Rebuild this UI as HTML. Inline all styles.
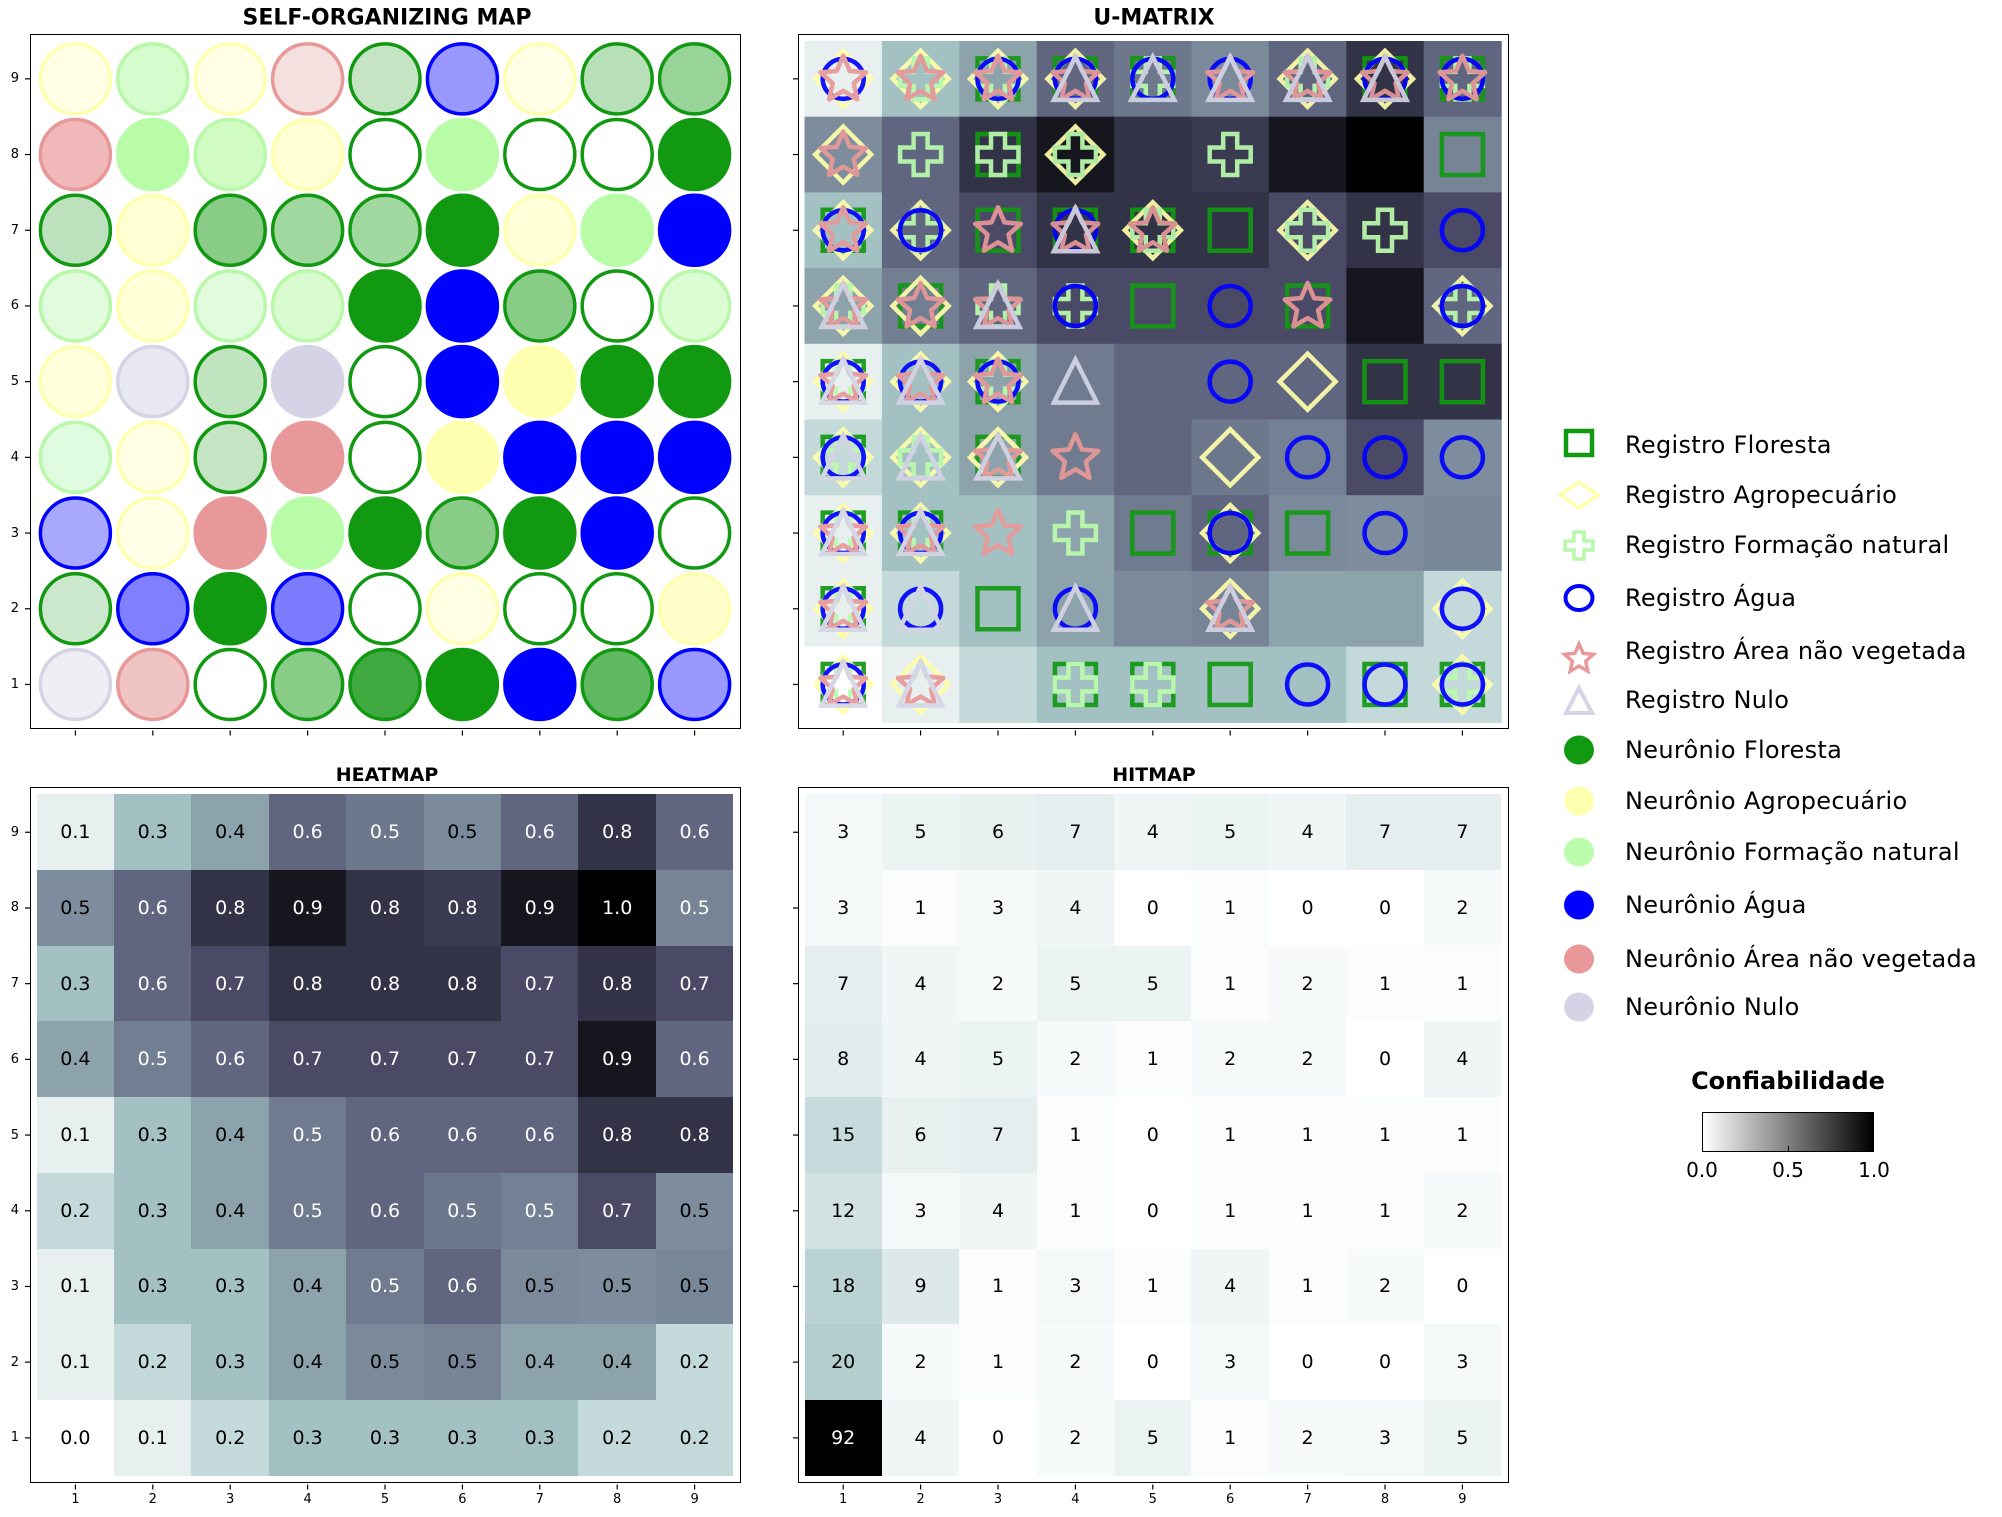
<!DOCTYPE html>
<html><head><meta charset="utf-8">
<style>
*{margin:0;padding:0;box-sizing:border-box}
html,body{width:2002px;height:1517px;background:#fff;overflow:hidden;font-family:"DejaVu Sans","Liberation Sans",sans-serif}
.abs{position:absolute}
.ax{position:absolute;border:1.5px solid #000}
.title{position:absolute;font-weight:bold;text-align:center;transform:translate(-50%,-50%);white-space:nowrap}
.tl{position:absolute;text-align:center;transform:translate(-50%,-50%);white-space:nowrap}
.g{position:absolute;display:grid;grid-template-columns:repeat(9,1fr);grid-template-rows:repeat(9,1fr);font-size:19px}
.g span{display:flex;align-items:center;justify-content:center;color:#000}
.g span.w{color:#fff}
.yl{position:absolute;display:grid;grid-template-rows:repeat(9,1fr);font-size:13px;text-align:right}
.yl span{display:flex;align-items:center;justify-content:flex-end}
.xl{position:absolute;display:grid;grid-template-columns:repeat(9,1fr);font-size:13px;text-align:center}
.leg{position:absolute;left:1625px;font-size:24px;transform:translateY(-50%);white-space:nowrap;letter-spacing:0.3px}
</style></head><body>
<svg id="bg" class="abs" style="left:0;top:0" width="2002" height="1517"></svg>

<div class="title" style="left:387px;top:18px;font-size:22px">SELF-ORGANIZING MAP</div>
<div class="title" style="left:1154px;top:18px;font-size:22px">U-MATRIX</div>
<div class="title" style="left:387px;top:775px;font-size:19px">HEATMAP</div>
<div class="title" style="left:1154px;top:775px;font-size:19px">HITMAP</div>

<div class="g" id="heat" style="left:36.7px;top:794.4px;width:696.6px;height:681.3px">
<span>0.1</span><span>0.3</span><span>0.4</span><span class=w>0.6</span><span class=w data-v=".54">0.5</span><span data-v=".48">0.5</span><span class=w>0.6</span><span class=w>0.8</span><span class=w>0.6</span>
<span data-v=".47">0.5</span><span class=w>0.6</span><span class=w>0.8</span><span class=w>0.9</span><span class=w>0.8</span><span class=w data-v=".77">0.8</span><span class=w>0.9</span><span class=w>1.0</span><span class=w data-v=".5">0.5</span>
<span>0.3</span><span class=w>0.6</span><span class=w>0.7</span><span class=w>0.8</span><span class=w>0.8</span><span class=w>0.8</span><span class=w>0.7</span><span class=w>0.8</span><span class=w>0.7</span>
<span>0.4</span><span class=w data-v=".52">0.5</span><span class=w>0.6</span><span class=w>0.7</span><span class=w>0.7</span><span class=w>0.7</span><span class=w>0.7</span><span class=w>0.9</span><span class=w>0.6</span>
<span>0.1</span><span>0.3</span><span>0.4</span><span class=w data-v=".53">0.5</span><span class=w>0.6</span><span class=w>0.6</span><span class=w>0.6</span><span class=w>0.8</span><span class=w>0.8</span>
<span>0.2</span><span>0.3</span><span>0.4</span><span class=w data-v=".53">0.5</span><span class=w>0.6</span><span class=w data-v=".54">0.5</span><span class=w data-v=".51">0.5</span><span class=w>0.7</span><span data-v=".47">0.5</span>
<span>0.1</span><span>0.3</span><span>0.3</span><span>0.4</span><span class=w data-v=".53">0.5</span><span class=w>0.6</span><span data-v=".48">0.5</span><span data-v=".47">0.5</span><span data-v=".49">0.5</span>
<span>0.1</span><span>0.2</span><span>0.3</span><span>0.4</span><span data-v=".48">0.5</span><span data-v=".5">0.5</span><span>0.4</span><span>0.4</span><span>0.2</span>
<span>0.0</span><span>0.1</span><span>0.2</span><span>0.3</span><span>0.3</span><span>0.3</span><span>0.3</span><span>0.2</span><span>0.2</span>
</div>

<div class="g" id="hit" style="left:804.5px;top:794.4px;width:696.6px;height:681.3px">
<span>3</span><span>5</span><span>6</span><span>7</span><span>4</span><span>5</span><span>4</span><span>7</span><span>7</span>
<span>3</span><span>1</span><span>3</span><span>4</span><span>0</span><span>1</span><span>0</span><span>0</span><span>2</span>
<span>7</span><span>4</span><span>2</span><span>5</span><span>5</span><span>1</span><span>2</span><span>1</span><span>1</span>
<span>8</span><span>4</span><span>5</span><span>2</span><span>1</span><span>2</span><span>2</span><span>0</span><span>4</span>
<span>15</span><span>6</span><span>7</span><span>1</span><span>0</span><span>1</span><span>1</span><span>1</span><span>1</span>
<span>12</span><span>3</span><span>4</span><span>1</span><span>0</span><span>1</span><span>1</span><span>1</span><span>2</span>
<span>18</span><span>9</span><span>1</span><span>3</span><span>1</span><span>4</span><span>1</span><span>2</span><span>0</span>
<span>20</span><span>2</span><span>1</span><span>2</span><span>0</span><span>3</span><span>0</span><span>0</span><span>3</span>
<span class=w>92</span><span>4</span><span>0</span><span>2</span><span>5</span><span>1</span><span>2</span><span>3</span><span>5</span>
</div>

<svg id="fg" class="abs" style="left:0;top:0" width="2002" height="1517"></svg>

<div class="ax" style="left:30px;top:34px;width:711px;height:695px"></div>
<div class="ax" style="left:798px;top:34px;width:711px;height:695px"></div>
<div class="ax" style="left:30px;top:787px;width:711px;height:696px"></div>
<div class="ax" style="left:798px;top:787px;width:711px;height:696px"></div>

<div class="yl" style="left:0;width:19px;top:41px;height:681.3px"><span>9</span><span>8</span><span>7</span><span>6</span><span>5</span><span>4</span><span>3</span><span>2</span><span>1</span></div>
<div class="yl" style="left:0;width:19px;top:794.4px;height:681.3px"><span>9</span><span>8</span><span>7</span><span>6</span><span>5</span><span>4</span><span>3</span><span>2</span><span>1</span></div>
<div class="xl" style="left:36.7px;width:696.6px;top:1492px"><span>1</span><span>2</span><span>3</span><span>4</span><span>5</span><span>6</span><span>7</span><span>8</span><span>9</span></div>
<div class="xl" style="left:804.5px;width:696.6px;top:1492px"><span>1</span><span>2</span><span>3</span><span>4</span><span>5</span><span>6</span><span>7</span><span>8</span><span>9</span></div>

<svg class="abs" style="left:1550px;top:420px" width="60" height="610">
<g transform="translate(29,0)">
<rect x="-13" y="11" width="26" height="24" fill="none" stroke="#119911" stroke-width="4.5"/>
<path d="M-19 75 L0 62 L19 75 L0 88 Z" fill="none" stroke="#ffffaa" stroke-width="3.5"/>
<path d="M-5 112 h10 v9 h9 v9 h-9 v9 h-10 v-9 h-9 v-9 h9 Z" fill="none" stroke="#b8f8a8" stroke-width="3.5"/>
<ellipse cx="0" cy="178" rx="13.5" ry="12" fill="none" stroke="#0000ff" stroke-width="4"/>
<path id="ls" d="" fill="none" stroke="#e89898" stroke-width="3.5"/>
<path d="M0 268 L13 293 L-13 293 Z" fill="none" stroke="#d4d4e6" stroke-width="4"/>
<ellipse cx="0" cy="330" rx="15" ry="14.5" fill="#119911"/>
<ellipse cx="0" cy="381" rx="15" ry="14.5" fill="#ffffb0"/>
<ellipse cx="0" cy="432" rx="15" ry="14.5" fill="#bbfcad"/>
<ellipse cx="0" cy="485" rx="15" ry="14.5" fill="#0000ff"/>
<ellipse cx="0" cy="539" rx="15" ry="14.5" fill="#e89898"/>
<ellipse cx="0" cy="587" rx="15" ry="14.5" fill="#d4d4e6"/>
</g></svg>
<div class="leg" style="top:445px">Registro Floresta</div>
<div class="leg" style="top:495px">Registro Agropecuário</div>
<div class="leg" style="top:545px">Registro Formação natural</div>
<div class="leg" style="top:598px">Registro Água</div>
<div class="leg" style="top:651px">Registro Área não vegetada</div>
<div class="leg" style="top:700px">Registro Nulo</div>
<div class="leg" style="top:750px">Neurônio Floresta</div>
<div class="leg" style="top:801px">Neurônio Agropecuário</div>
<div class="leg" style="top:852px">Neurônio Formação natural</div>
<div class="leg" style="top:905px">Neurônio Água</div>
<div class="leg" style="top:959px">Neurônio Área não vegetada</div>
<div class="leg" style="top:1007px">Neurônio Nulo</div>

<div class="title" style="left:1788px;top:1081px;font-size:24px">Confiabilidade</div>
<div class="abs" style="left:1702px;top:1112px;width:172px;height:40px;border:1.2px solid #000;background:linear-gradient(to right,#fff,#000)"></div>
<div class="abs" style="left:1702px;top:1146px;width:1px;height:6px;background:#000"></div>
<div class="abs" style="left:1788px;top:1146px;width:1px;height:6px;background:#000"></div>
<div class="abs" style="left:1873px;top:1146px;width:1px;height:6px;background:#000"></div>
<div class="tl" style="left:1702px;top:1170px;font-size:20px">0.0</div>
<div class="tl" style="left:1788px;top:1170px;font-size:20px">0.5</div>
<div class="tl" style="left:1874px;top:1170px;font-size:20px">1.0</div>

<script>
function bone(x){
  var r = x<0.746032 ? x*0.652778/0.746032 : 0.652778+(x-0.746032)/0.253968*0.347222;
  var g = x<0.365079 ? x*0.319444/0.365079 : (x<0.746032 ? 0.319444+(x-0.365079)/0.380953*0.458334 : 0.777778+(x-0.746032)/0.253968*0.222222);
  var b = x<0.365079 ? x*0.444444/0.365079 : 0.444444+(x-0.365079)/0.634921*0.555556;
  return 'rgb('+Math.round(r*255)+','+Math.round(g*255)+','+Math.round(b*255)+')';
}
function boneR(v){v=Math.max(0,Math.min(1,v));return bone(1-v);}
function adj(v){return v<0.9&&v>0.05? v-0.03 : v;}
var NS='http://www.w3.org/2000/svg';
function el(p,t,a){var e=document.createElementNS(NS,t);for(var k in a)e.setAttribute(k,a[k]);p.appendChild(e);return e;}
var bg=document.getElementById('bg'), fg=document.getElementById('fg');
var hv=[];
document.querySelectorAll('#heat span').forEach(function(s){
  var v=adj(parseFloat(s.dataset.v||s.textContent));hv.push(v);s.style.background=boneR(v);
});
document.querySelectorAll('#hit span').forEach(function(s){
  s.style.background=boneR(parseFloat(s.textContent)/92);
});
var CW=77.4, RH=75.7, LX=36.7, RX=804.5, TY=41, BY=794.4;
for(var i=0;i<81;i++){var r=Math.floor(i/9),c=i%9;
  el(bg,'rect',{x:RX+c*CW,y:TY+r*RH,width:CW+0.6,height:RH+0.6,fill:boneR(hv[i])});}
var Y='#ffffb0',L='#b8f8a8',G='#119911',B='#0000ff',P='#e89898',N='#d4d4e6',Wh='#ffffff';
var som=[
[['#ffffe6',Y],['#d4fccc',L],['#ffffe6',Y],['#f5e0e0',P],['#c4e4c4',G],['#9898ff',B],['#ffffe6',Y],['#b8e0b8',G],['#98d498',G]],
[['#f0b8b8',P],['#b8fca8','#b8fca8'],['#d0fcc4',L],['#ffffd4',Y],[Wh,G],['#b8fca8','#b8fca8'],[Wh,G],[Wh,G],[G,G]],
[['#bde0bd',G],['#ffffd4',Y],['#88cc88',G],['#a0d8a0',G],['#a0d8a0',G],[G,G],['#ffffd8',Y],['#b8fca8','#b8fca8'],[B,B]],
[['#e0fcdc',L],['#ffffd8',Y],['#e0fcdc',L],['#d8fcd0',L],[G,G],[B,B],['#88cc88',G],[Wh,G],['#dcfcd4',L]],
[['#ffffdc',Y],['#e8e8f2',N],['#c0e4c0',G],[N,N],[Wh,G],[B,B],[Y,Y],[G,G],[G,G]],
[['#e0fce0',L],['#ffffe4',Y],['#c4e4c4',G],[P,P],[Wh,G],[Y,Y],[B,B],[B,B],[B,B]],
[['#a8a8ff',B],['#ffffe8',Y],[P,P],['#b8fca8','#b8fca8'],[G,G],['#88cc88',G],[G,G],[B,B],[Wh,G]],
[['#cce8cc',G],['#8080ff',B],[G,G],['#7c7cff',B],[Wh,G],['#ffffe4',Y],[Wh,G],[Wh,G],['#ffffcc',Y]],
[['#eeeef4',N],['#f0c4c4',P],[Wh,G],['#88cc88',G],['#40aa40',G],[G,G],[B,B],['#60b860',G],['#9898ff',B]]];
for(var r=0;r<9;r++)for(var c=0;c<9;c++){
  el(fg,'circle',{cx:LX+c*CW+CW/2,cy:TY+r*RH+RH/2,r:35,fill:som[r][c][0],stroke:som[r][c][1],'stroke-width':3.5});}
function star(cx,cy,R,ri){var p=[];for(var k=0;k<10;k++){var a=-Math.PI/2+k*Math.PI/5,rr=k%2?ri:R;p.push((cx+rr*Math.cos(a)).toFixed(1)+' '+(cy+rr*Math.sin(a)).toFixed(1));}return 'M'+p.join(' L')+' Z';}
document.getElementById('ls').setAttribute('d',star(0,239,15,7));
var um=[
["AWX","ANX","FANWX","FAWXU","FNWU","WXU","ANXU","FAWXU","FNWX"],
["AX","N","FN","AN","","N","","","F"],
["FAWX","ANW","FX","FWXU","FANX","F","AN","N","W"],
["ANXU","FAX","NXU","NW","F","W","FX","","ANW"],
["FANWXU","AWXU","FANWX","U","","W","A","F","F"],
["FANWU","ANU","FAXU","X","","A","W","W","W"],
["FANWXU","FANWXU","X","N","F","FAW","F","W",""],
["FANWXU","WU","F","WU","","AXU","","","AW"],
["FANWXU","AXU","","FN","FN","F","W","FW","FANW"]];
var sw=4.5;
for(var r=0;r<9;r++)for(var c=0;c<9;c++){
  var s=um[r][c],x=RX+c*CW+CW/2,y=TY+r*RH+RH/2;
  var g=el(fg,'g',{fill:'none','stroke-width':sw,opacity:0.92});
  if(s.indexOf('F')>=0)el(g,'rect',{x:x-20.5,y:y-20.5,width:41,height:41,stroke:'#119911'});
  if(s.indexOf('A')>=0)el(g,'path',{d:'M'+(x-28)+' '+y+' L'+x+' '+(y-28)+' L'+(x+28)+' '+y+' L'+x+' '+(y+28)+' Z',stroke:'#ffffaa'});
  if(s.indexOf('N')>=0){var a=7,o=20.5;el(g,'path',{d:'M'+(x-a)+' '+(y-o)+' h'+2*a+' v'+(o-a)+' h'+(o-a)+' v'+2*a+' h'+(a-o)+' v'+(o-a)+' h'+(-2*a)+' v'+(a-o)+' h'+(a-o)+' v'+(-2*a)+' h'+(o-a)+' Z',stroke:'#bbfcad'});}
  if(s.indexOf('W')>=0)el(g,'ellipse',{cx:x,cy:y,rx:20.5,ry:20,stroke:'#0000ff'});
  if(s.indexOf('X')>=0)el(g,'path',{d:star(x,y+1,24,11),stroke:'#e89898','stroke-linejoin':'round'});
  if(s.indexOf('U')>=0)el(g,'path',{d:'M'+x+' '+(y-22)+' L'+(x+21.5)+' '+(y+21)+' L'+(x-21.5)+' '+(y+21)+' Z',stroke:'#d4d4e6'});
}
[[30,TY],[798,TY],[30,BY],[798,BY]].forEach(function(p){
  for(var k=0;k<9;k++)el(fg,'line',{x1:p[0]-5,x2:p[0],y1:p[1]+k*RH+RH/2,y2:p[1]+k*RH+RH/2,stroke:'#000','stroke-width':1.2});
});
[[LX,730.5],[RX,730.5],[LX,1484.5],[RX,1484.5]].forEach(function(p){
  for(var k=0;k<9;k++)el(fg,'line',{x1:p[0]+k*CW+CW/2,x2:p[0]+k*CW+CW/2,y1:p[1],y2:p[1]+5,stroke:'#000','stroke-width':1.2});
});
</script>
</body></html>
